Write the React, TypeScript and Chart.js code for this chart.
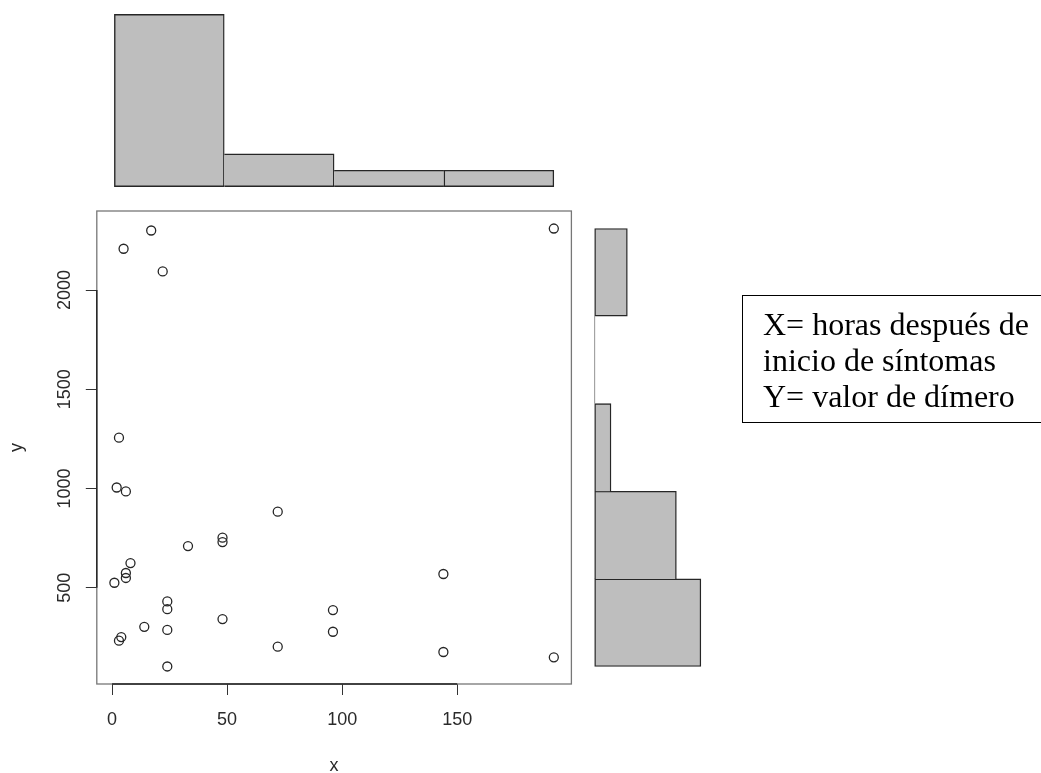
import React, { useEffect, useRef } from 'react';
import { Chart, registerables } from 'chart.js';

Chart.register(...registerables);

// ---- data ----
const xValues = [17, 5, 22, 192, 3, 2, 6, 72, 48, 48, 33, 8, 6, 6, 1, 24, 24, 48, 14, 24, 4, 3, 24, 72, 144, 96, 96, 144, 192];
const yValues = [2300, 2208, 2094, 2310, 1256, 1005, 985, 883, 752, 730, 710, 624, 574, 549, 525, 431, 392, 342, 303, 287, 251, 233, 103, 203, 569, 387, 278, 176, 149];

const xTickValues = [0, 50, 100, 150];
const yTickValues = [500, 1000, 1500, 2000];

const xHistBreaks = [0, 50, 100, 150, 200];
const xHistCounts = [21, 4, 2, 2];
const yHistBreaks = [0, 500, 1000, 1500, 2000, 2500];
const yHistCounts = [13, 10, 2, 0, 4];

const xAxisTitle = 'x';
const yAxisTitle = 'y';
const noteLines = ['X= horas después de', 'inicio de síntomas', 'Y= valor de dímero'];

const AXIS_FONT = '"Liberation Sans", Arial, Helvetica, sans-serif';
const TEXT_COLOR = '#2a2a2a';
const BAR_FILL = '#bebebe';
const BAR_EDGE = '#262626';
const EDGE_W = 1.4;

// R-style 4% axis extension
const ext = (lo: number, hi: number): [number, number] => {
  const r = hi - lo;
  return [lo - 0.04 * r, hi + 0.04 * r];
};

const histTop = Math.max(...xHistCounts, ...yHistCounts);

const rAxesPlugin = {
  id: 'rAxes',
  afterDraw(chart: any) {
    const { ctx, chartArea: a, scales } = chart;
    const x = scales.x;
    const y = scales.y;
    ctx.save();
    // plot box
    ctx.strokeStyle = '#777777';
    ctx.lineWidth = 1.3;
    ctx.strokeRect(a.left, a.top, a.right - a.left, a.bottom - a.top);
    // axis lines from first to last tick
    ctx.strokeStyle = '#222222';
    ctx.lineWidth = 1.4;
    ctx.beginPath();
    ctx.moveTo(x.getPixelForValue(xTickValues[0]), a.bottom);
    ctx.lineTo(x.getPixelForValue(xTickValues[xTickValues.length - 1]), a.bottom);
    ctx.moveTo(a.left, y.getPixelForValue(yTickValues[0]));
    ctx.lineTo(a.left, y.getPixelForValue(yTickValues[yTickValues.length - 1]));
    ctx.stroke();
    // rotated y tick labels
    ctx.fillStyle = TEXT_COLOR;
    ctx.font = `18px ${AXIS_FONT}`;
    ctx.textAlign = 'center';
    ctx.textBaseline = 'alphabetic';
    yTickValues.forEach((v) => {
      const py = y.getPixelForValue(v);
      ctx.save();
      ctx.translate(a.left - 26.8, py);
      ctx.rotate(-Math.PI / 2);
      ctx.fillText(String(v), 0, 0);
      ctx.restore();
    });
    // axis titles
    ctx.fillText(xAxisTitle, (a.left + a.right) / 2, a.bottom + 86.5);
    ctx.save();
    ctx.translate(22, (a.top + a.bottom) / 2);
    ctx.rotate(-Math.PI / 2);
    ctx.fillText(yAxisTitle, 0, 0);
    ctx.restore();
    ctx.restore();
  },
};

const zeroBinPlugin = {
  id: 'zeroBin',
  afterDatasetsDraw(chart: any) {
    const { ctx, scales } = chart;
    ctx.save();
    ctx.strokeStyle = '#9a9a9a';
    ctx.lineWidth = 1;
    ctx.beginPath();
    yHistCounts.forEach((c, i) => {
      if (c === 0) {
        const px = scales.x.getPixelForValue(0);
        ctx.moveTo(px, scales.y.getPixelForValue(i));
        ctx.lineTo(px, scales.y.getPixelForValue(i + 1));
      }
    });
    ctx.stroke();
    ctx.restore();
  },
};

export default function App() {
  const mainRef = useRef<HTMLCanvasElement>(null);
  const topRef = useRef<HTMLCanvasElement>(null);
  const rightRef = useRef<HTMLCanvasElement>(null);

  useEffect(() => {
    const [xmin, xmax] = ext(Math.min(...xValues), Math.max(...xValues));
    const [ymin, ymax] = ext(Math.min(...yValues), Math.max(...yValues));
    const [hmin, hmax] = ext(0, histTop);
    const nx = xHistCounts.length;
    const ny = yHistCounts.length;
    const [bxmin, bxmax] = ext(0, nx);
    const [bymin, bymax] = ext(0, ny);

    const main = new Chart(mainRef.current!, {
      type: 'scatter',
      data: {
        datasets: [
          {
            data: xValues.map((x, i) => ({ x, y: yValues[i] })),
            pointRadius: 4.5,
            pointHoverRadius: 4.5,
            pointBorderWidth: 1.3,
            pointBackgroundColor: 'rgba(0,0,0,0)',
            pointBorderColor: '#262626',
            showLine: false,
          },
        ],
      },
      options: {
        responsive: false,
        animation: false,
        events: [],
        layout: { padding: { left: 0, top: 16, right: 18.6, bottom: 0 } },
        plugins: { legend: { display: false }, tooltip: { enabled: false } },
        scales: {
          x: {
            type: 'linear',
            min: xmin,
            max: xmax,
            afterBuildTicks: (s: any) => {
              s.ticks = xTickValues.map((v) => ({ value: v }));
            },
            afterFit: (s: any) => {
              s.height = 89;
            },
            grid: { display: true, drawOnChartArea: false, drawTicks: true, tickLength: 11, color: '#333', lineWidth: 1 },
            border: { display: false },
            ticks: {
              padding: 14,
              font: { family: AXIS_FONT, size: 18 },
              color: TEXT_COLOR,
              maxRotation: 0,
              minRotation: 0,
              autoSkip: false,
              callback: (v: any) => String(v),
            },
          },
          y: {
            type: 'linear',
            min: ymin,
            max: ymax,
            afterBuildTicks: (s: any) => {
              s.ticks = yTickValues.map((v) => ({ value: v }));
            },
            afterFit: (s: any) => {
              s.width = 96.8;
            },
            grid: { display: true, drawOnChartArea: false, drawTicks: true, tickLength: 11, color: '#333', lineWidth: 1 },
            border: { display: false },
            ticks: { display: false },
          },
        },
      } as any,
      plugins: [rAxesPlugin],
    });

    const top = new Chart(topRef.current!, {
      type: 'bar',
      data: {
        datasets: [
          {
            data: xHistCounts.map((c, i) => ({ x: i + 0.5, y: c })),
            backgroundColor: BAR_FILL,
            borderColor: BAR_EDGE,
            borderSkipped: false,
            borderWidth: xHistCounts.map((c, i) => ({
              top: EDGE_W,
              bottom: EDGE_W,
              left: i === 0 || c >= xHistCounts[i - 1] ? EDGE_W : 0,
              right: i === nx - 1 || c > xHistCounts[i + 1] ? EDGE_W : 0,
            })),
            barPercentage: 1,
            categoryPercentage: 1,
          },
        ],
      },
      options: {
        responsive: false,
        animation: false,
        events: [],
        layout: { padding: { left: 96.8, right: 18.6, top: 7.5, bottom: 1.5 } },
        plugins: { legend: { display: false }, tooltip: { enabled: false } },
        scales: {
          x: {
            type: 'linear',
            display: false,
            offset: false,
            min: bxmin,
            max: bxmax,
            afterBuildTicks: (s: any) => {
              s.ticks = xHistBreaks.map((_, i) => ({ value: i }));
            },
          },
          y: { type: 'linear', display: false, min: hmin, max: hmax },
        },
      } as any,
    });

    const right = new Chart(rightRef.current!, {
      type: 'bar',
      data: {
        datasets: [
          {
            data: yHistCounts.map((c, i) => ({ x: c, y: i + 0.5 })),
            backgroundColor: BAR_FILL,
            borderColor: BAR_EDGE,
            borderSkipped: false,
            borderWidth: yHistCounts.map((c, i) => ({
              left: EDGE_W,
              right: EDGE_W,
              bottom: i === 0 || c >= yHistCounts[i - 1] ? EDGE_W : 0,
              top: i === ny - 1 || c > yHistCounts[i + 1] ? EDGE_W : 0,
            })),
            barPercentage: 1,
            categoryPercentage: 1,
          },
        ],
      },
      options: {
        indexAxis: 'y',
        responsive: false,
        animation: false,
        events: [],
        layout: { padding: { left: 7.8, right: 6.9, top: 16, bottom: 11 } },
        plugins: { legend: { display: false }, tooltip: { enabled: false } },
        scales: {
          x: { type: 'linear', display: false, min: hmin, max: hmax },
          y: {
            type: 'linear',
            display: false,
            offset: false,
            min: bymin,
            max: bymax,
            afterBuildTicks: (s: any) => {
              s.ticks = yHistBreaks.map((_, i) => ({ value: i }));
            },
          },
        },
      } as any,
      plugins: [zeroBinPlugin],
    });

    return () => {
      main.destroy();
      top.destroy();
      right.destroy();
    };
  }, []);

  return (
    <div
      style={{
        position: 'absolute',
        left: 0,
        top: 0,
        width: 1041,
        height: 773,
        overflow: 'hidden',
        background: '#ffffff',
      }}
    >
      <canvas
        ref={topRef}
        width={590}
        height={195}
        style={{ position: 'absolute', left: 0, top: 0, width: 590, height: 195, display: 'block' }}
      />
      <canvas
        ref={mainRef}
        width={590}
        height={578}
        style={{ position: 'absolute', left: 0, top: 195, width: 590, height: 578, display: 'block' }}
      />
      <canvas
        ref={rightRef}
        width={200}
        height={500}
        style={{ position: 'absolute', left: 580, top: 195, width: 200, height: 500, display: 'block' }}
      />
      <div
        style={{
          position: 'absolute',
          left: 742,
          top: 295,
          width: 330,
          height: 128,
          boxSizing: 'border-box',
          border: '1px solid #000',
        }}
      />
      <div
        style={{
          position: 'absolute',
          left: 763,
          top: 305.7,
          fontFamily: '"Liberation Serif", "Times New Roman", serif',
          fontSize: 32,
          lineHeight: '36px',
          color: '#000',
          whiteSpace: 'nowrap',
        }}
      >
        {noteLines.map((l) => (
          <div key={l}>{l}</div>
        ))}
      </div>
    </div>
  );
}
